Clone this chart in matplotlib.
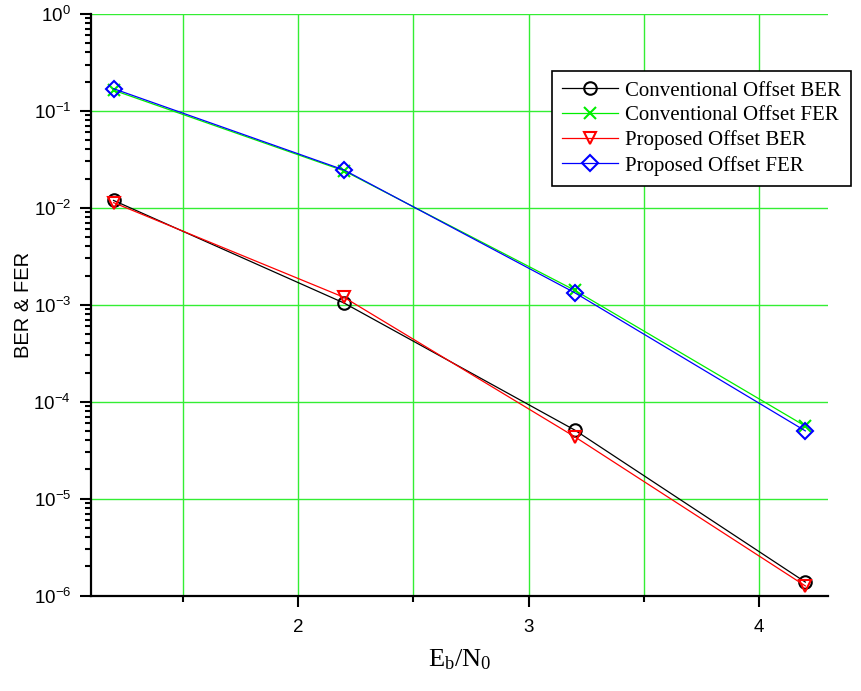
import numpy as np
import matplotlib
matplotlib.use('Agg')
import matplotlib.pyplot as plt
from matplotlib.ticker import FixedLocator, FuncFormatter, NullFormatter

# datos
ebn0 = [1.2, 2.2, 3.2, 4.2]
conv_ber = [1.19e-2, 1.04e-3, 5.1e-5, 1.38e-6]
conv_fer = [0.163, 0.0240, 1.41e-3, 5.6e-5]
prop_ber = [1.13e-2, 1.19e-3, 4.35e-5, 1.26e-6]
prop_fer = [0.169, 0.0245, 1.33e-3, 5.0e-5]

series = [
    ('Conventional Offset BER', conv_ber, 'black', 'o'),
    ('Conventional Offset FER', conv_fer, '#00ee00', 'x'),
    ('Proposed Offset BER', prop_ber, 'red', 'v'),
    ('Proposed Offset FER', prop_fer, 'blue', 'D'),
]

plt.rcParams['font.family'] = ['Liberation Sans', 'DejaVu Sans']

fig = plt.figure(figsize=(8.62, 6.91), dpi=100)
ax = fig.add_axes([0.105, 0.138, 0.856, 0.842])

for nombre, valores, color, marca in series:
    ms = 8 if marca == 'D' else 9
    ax.plot(ebn0, valores, color=color, lw=0.9, marker=marca, ms=ms,
            mfc='none', mec=color, mew=1.5, label=nombre)

ax.set_yscale('log')
ax.set_xlim(1.1, 4.3)
ax.set_ylim(1e-6, 1)

# ticks: decadas y subdivisiones
decadas = np.arange(-6, 1)
ax.xaxis.set_major_locator(FixedLocator([2, 3, 4]))
ax.xaxis.set_minor_locator(FixedLocator([1.5, 2.5, 3.5]))
ax.yaxis.set_major_locator(FixedLocator(10.0 ** decadas))
menores = [k * 10.0 ** d for d in decadas[:-1] for k in range(2, 10)]
ax.yaxis.set_minor_locator(FixedLocator(menores))
ax.yaxis.set_major_formatter(FuncFormatter(lambda v, p: r'$\mathregular{10^{%d}}$' % round(np.log10(v))))
ax.yaxis.set_minor_formatter(NullFormatter())

ax.grid(True, which='major', color='#33ee33', lw=1.0)
ax.grid(True, which='minor', axis='x', color='#33ee33', lw=1.0)
ax.set_axisbelow(True)

for lado in ['top', 'right']:
    ax.spines[lado].set_visible(False)
for lado in ['left', 'bottom']:
    ax.spines[lado].set_linewidth(1.6)

ax.tick_params(which='major', direction='out', length=8, width=1.5, labelsize=13.5)
ax.tick_params(which='minor', direction='out', length=4.5, width=1.5)
ax.tick_params(axis='x', pad=9)
ax.tick_params(axis='y', pad=6)

ax.set_ylabel('BER & FER', fontsize=14.5, labelpad=0)
ax.set_xlabel(r'$\mathregular{E_b/N_0}$', fontsize=19, family='Liberation Serif', labelpad=8)

leg = ax.legend(loc='upper left', bbox_to_anchor=(0.625, 0.9025), borderaxespad=0,
                prop={'family': 'Liberation Serif', 'size': 15}, fancybox=False,
                edgecolor='black', framealpha=1, handlelength=2.7, handletextpad=0.3,
                labelspacing=0.25, borderpad=0.5)
leg.get_frame().set_linewidth(1.2)

fig.savefig('out.png', dpi=100)
